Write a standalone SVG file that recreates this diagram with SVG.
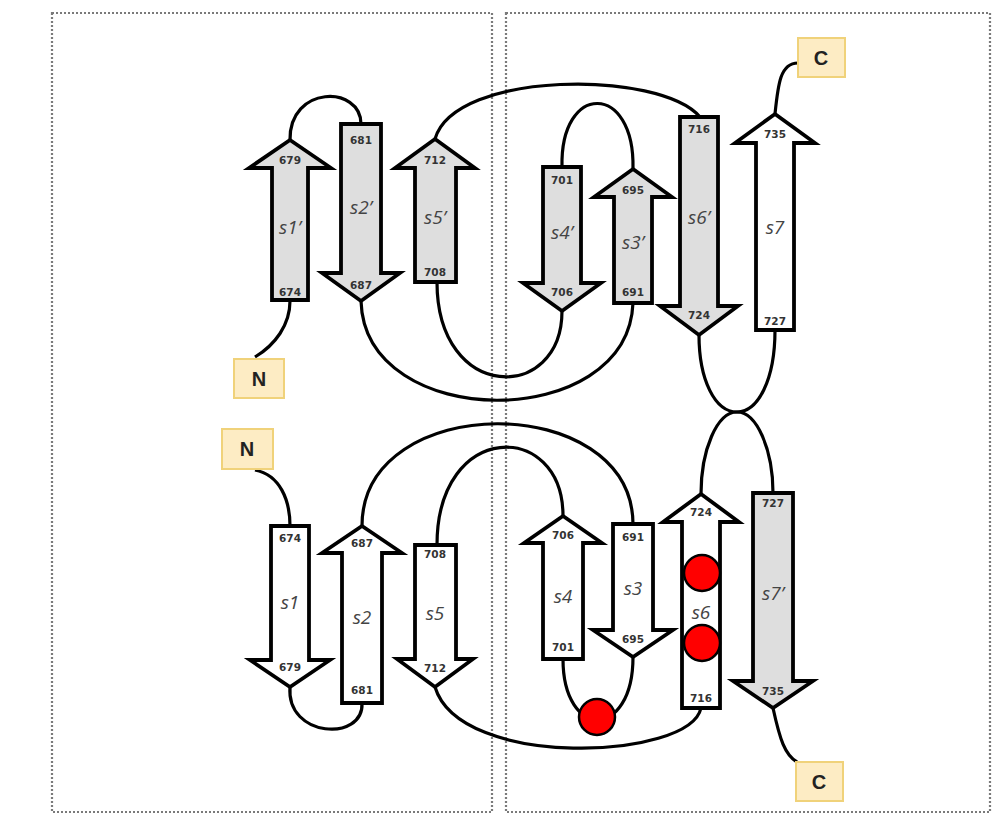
<svg xmlns="http://www.w3.org/2000/svg" width="1003" height="817" viewBox="0 0 1003 817">
<style>
.frame{fill:none;stroke:#7a7a7a;stroke-width:2.2;stroke-dasharray:2 2}
.g{fill:#dedede;stroke:#000;stroke-width:3.8;stroke-linejoin:miter}
.w{fill:#ffffff;stroke:#000;stroke-width:3.8;stroke-linejoin:miter}
.num{font-family:"DejaVu Sans",sans-serif;font-weight:bold;font-size:10.5px;fill:#333;text-anchor:middle}
.lab{font-family:"Open Sans","DejaVu Sans",sans-serif;font-style:italic;font-size:19px;fill:#444;text-anchor:middle}
.term rect{fill:#fdecc4;stroke:#f0d27a;stroke-width:2}
.term text{font-family:"Liberation Sans",Arial,sans-serif;font-weight:bold;font-size:20px;fill:#222;text-anchor:middle}
.conn path{fill:none;stroke:#000;stroke-width:3.2}
.dot{fill:#ff0000;stroke:#000;stroke-width:2.5}
</style>
<rect width="1003" height="817" fill="#fff"/>
<rect class="frame" x="52" y="13" width="440" height="799"/>
<rect class="frame" x="506" y="13" width="484" height="799"/>

<g id="connectors" class="conn">
<path d="M255 357 C275 345 290 325 290 301"/>
<path d="M290 140 C289 85 361 85 361 124"/>
<path d="M361 301 C365 433 628 433 633 303"/>
<path d="M633 169 C635 82 560 82 562 167"/>
<path d="M437 282 C437 403 562 403 562 311"/>
<path d="M435 139 C455 70 660 70 700 117"/>
<path d="M699 335 C699 380 715 412 737 412 C758 412 775 380 775 330"/>
<path d="M701 494 C701 450 717 412 737 412 C757 412 773 450 773 493"/>
<path d="M775 114 C778 85 780 63 798 63"/>
<path d="M255 470 C280 475 290 500 290 526"/>
<path d="M290 687 C286 738 364 742 362 703"/>
<path d="M362 526 C362 390 632 390 633 524"/>
<path d="M633 657 C633 740 563 740 563 659"/>
<path d="M437 545 C437 420 563 420 563 516"/>
<path d="M435 687 C460 770 690 760 701 708"/>
<path d="M773 708 C780 740 785 755 797 762"/>
</g>

<g id="s1p"><polygon class="g" points="290,140 331,168 308,168 308,300 272,300 272,168 249,168"/><text class="num" x="290" y="164">679</text><text class="num" x="290" y="296">674</text><text class="lab" x="290" y="234">s1’</text></g>
<g id="s2p"><polygon class="g" points="341,124 381,124 381,273 400,273 361,301 322,273 341,273"/><text class="num" x="361" y="144">681</text><text class="num" x="361" y="289">687</text><text class="lab" x="361" y="214">s2’</text></g>
<g id="s5p"><polygon class="g" points="435,139 475,168 456,168 456,282 415,282 415,168 395,168"/><text class="num" x="435" y="164">712</text><text class="num" x="435" y="276">708</text><text class="lab" x="435" y="224">s5’</text></g>
<g id="s4p"><polygon class="g" points="543,167 581,167 581,283 601,283 562,311 523,283 543,283"/><text class="num" x="562" y="184">701</text><text class="num" x="562" y="296">706</text><text class="lab" x="562" y="239">s4’</text></g>
<g id="s3p"><polygon class="g" points="633,169 672,197 652,197 652,303 614,303 614,197 594,197"/><text class="num" x="633" y="194">695</text><text class="num" x="633" y="296">691</text><text class="lab" x="633" y="249">s3’</text></g>
<g id="s6p"><polygon class="g" points="680,117 718,117 718,306 738,306 699,335 660,306 680,306"/><text class="num" x="699" y="133">716</text><text class="num" x="699" y="319">724</text><text class="lab" x="699" y="224">s6’</text></g>
<g id="s7"><polygon class="w" points="775,114 815,143 794,143 794,330 756,330 756,143 735,143"/><text class="num" x="775" y="138">735</text><text class="num" x="775" y="325">727</text><text class="lab" x="775" y="234">s7</text></g>

<g id="s1"><polygon class="w" points="271,526 309,526 309,660 330,660 290,687 250,660 271,660"/><text class="num" x="290" y="542">674</text><text class="num" x="290" y="671">679</text><text class="lab" x="290" y="609">s1</text></g>
<g id="s2"><polygon class="w" points="362,526 402,553 382,553 382,703 342,703 342,553 322,553"/><text class="num" x="362" y="547">687</text><text class="num" x="362" y="694">681</text><text class="lab" x="362" y="624">s2</text></g>
<g id="s5"><polygon class="w" points="415,545 456,545 456,659 473,659 435,687 397,659 415,659"/><text class="num" x="435" y="558">708</text><text class="num" x="435" y="672">712</text><text class="lab" x="435" y="620">s5</text></g>
<g id="s4"><polygon class="w" points="563,516 602,543 583,543 583,659 543,659 543,543 524,543"/><text class="num" x="563" y="539">706</text><text class="num" x="563" y="651">701</text><text class="lab" x="563" y="603">s4</text></g>
<g id="s3"><polygon class="w" points="613,524 653,524 653,630 673,630 633,657 593,630 613,630"/><text class="num" x="633" y="541">691</text><text class="num" x="633" y="643">695</text><text class="lab" x="633" y="595">s3</text></g>
<g id="s6"><polygon class="w" points="701,494 739,522 720,522 720,708 682,708 682,522 663,522"/><text class="num" x="701" y="516">724</text><text class="num" x="701" y="702">716</text><text class="lab" x="701" y="619">s6</text></g>
<g id="s7p"><polygon class="g" points="753,493 793,493 793,681 813,681 773,708 733,681 753,681"/><text class="num" x="773" y="507">727</text><text class="num" x="773" y="695">735</text><text class="lab" x="773" y="600">s7’</text></g>

<g id="N_top" class="term"><rect x="234" y="359" width="50" height="39"/><text x="259" y="386">N</text></g>
<g id="N_bottom" class="term"><rect x="222" y="429" width="51" height="40"/><text x="247" y="456">N</text></g>
<g id="C_top" class="term"><rect x="798" y="38" width="47" height="39"/><text x="821" y="65">C</text></g>
<g id="C_bottom" class="term"><rect x="796" y="762" width="47" height="39"/><text x="819" y="789">C</text></g>

<g id="mutations">
<circle class="dot" cx="702" cy="573" r="18"/>
<circle class="dot" cx="702" cy="643" r="18"/>
<circle class="dot" cx="597" cy="717" r="18"/>
</g>
</svg>
